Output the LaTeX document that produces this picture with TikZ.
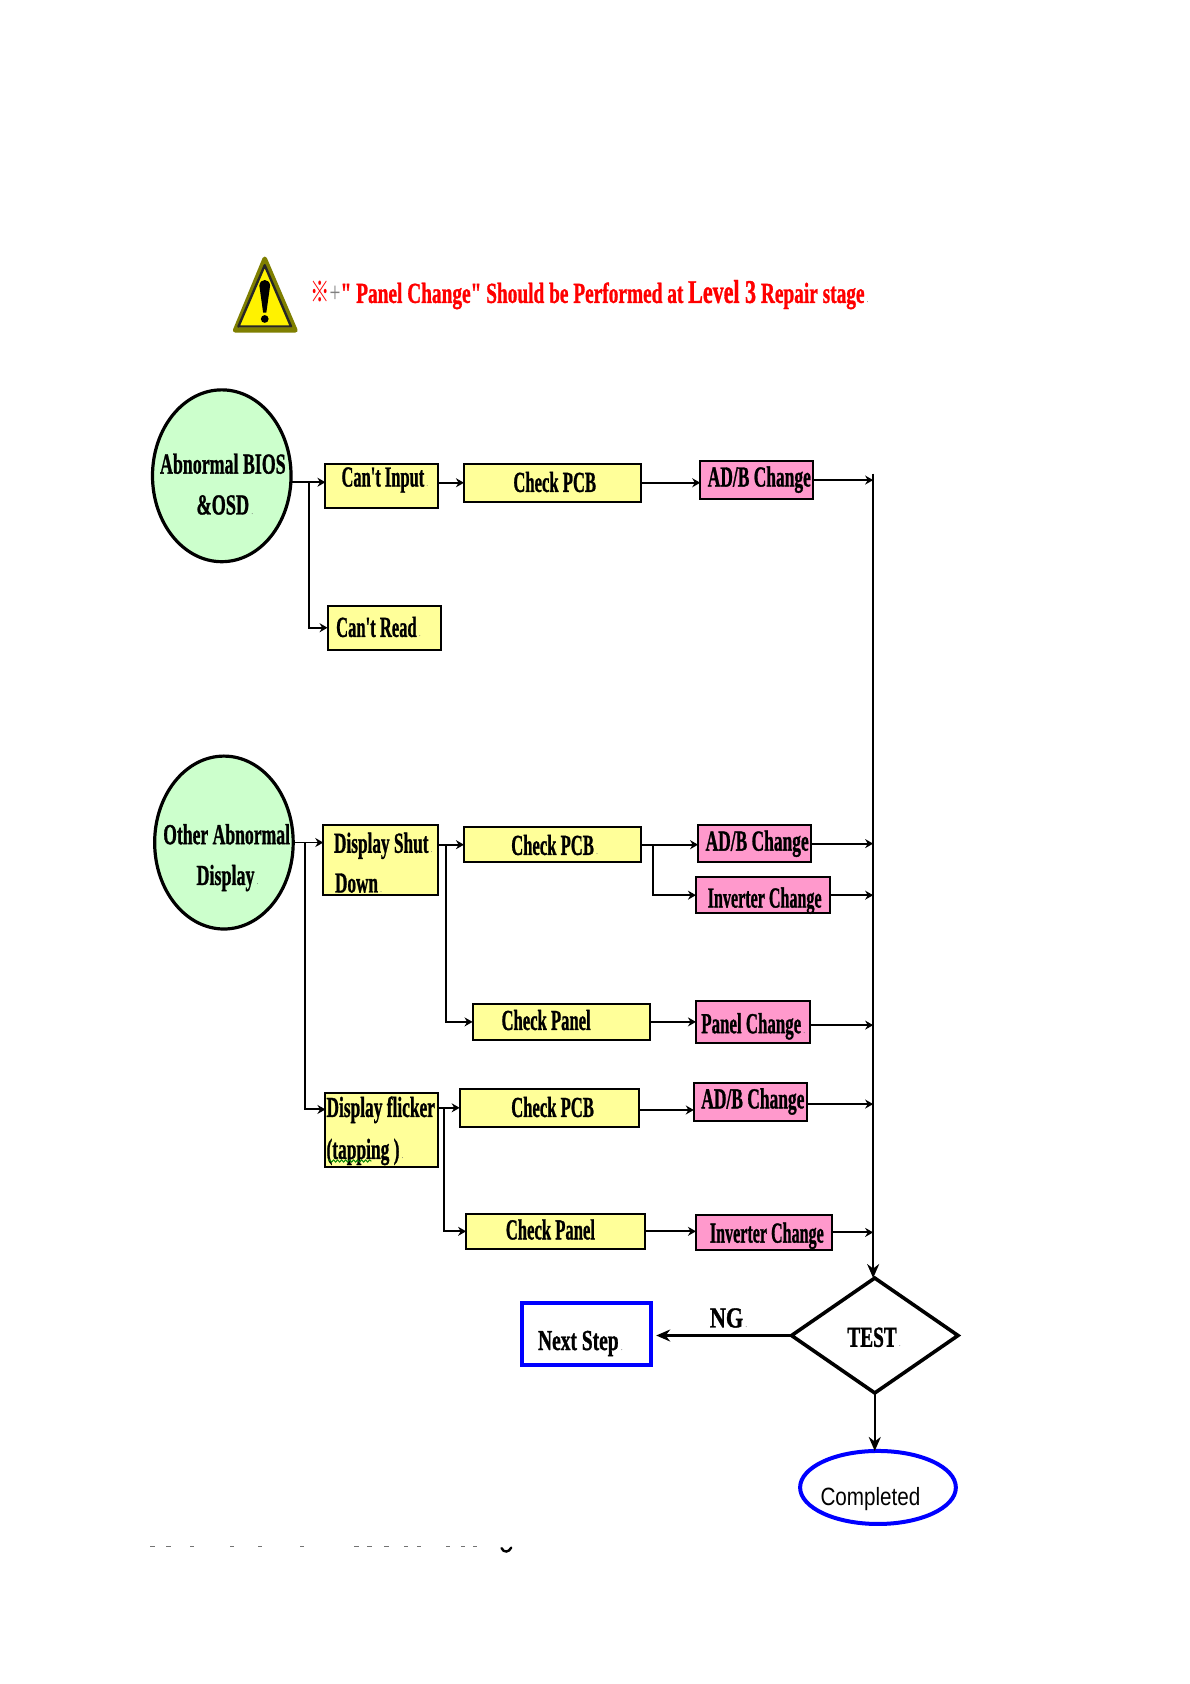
\documentclass[tikz,border=0pt]{standalone}
\usepackage{fontspec}
\usepackage{graphicx}
\setmainfont{Liberation Serif}
\setsansfont{Liberation Sans}
\newfontfamily\cjkf{Noto Sans CJK SC}
\newfontfamily\labf[FakeBold=1.3]{Liberation Serif Bold}
\usetikzlibrary{shapes.geometric,shapes.misc,arrows.meta,calc,decorations.pathmorphing}
\definecolor{ybox}{HTML}{FFFF99}
\definecolor{pbox}{HTML}{FF99CC}
\definecolor{gbox}{HTML}{CCFFCC}
\definecolor{bluel}{HTML}{0000FF}
\definecolor{olivel}{HTML}{7F7F00}
\definecolor{squig}{HTML}{008000}
\tikzset{
  base/.style={inner sep=0pt,outer sep=0pt},
  ybx/.style={base,rectangle,draw=black,line width=2pt,fill=ybox},
  pbx/.style={base,rectangle,draw=black,line width=2pt,fill=pbox},
  startc/.style={base,ellipse,draw=black,line width=3.2pt,fill=gbox},
  testd/.style={base,diamond,draw=black,line width=3.6pt,fill=white},
  nextb/.style={base,chamfered rectangle,chamfered rectangle xsep=4pt,chamfered rectangle ysep=4pt,draw=bluel,line width=3.6pt,fill=white},
  donee/.style={base,ellipse,draw=bluel,line width=4pt,fill=white},
  plain/.style={base},
  wire/.style={draw=black,line width=1.9pt},
  arr/.style={wire,-{Stealth[length=8pt,width=9pt]}},
  bigarr/.style={draw=black,line width=2.2pt,-{Stealth[length=14pt,width=12pt]}},
}
% box: name, style, x1,y1,x2,y2, content
\newcommand\Bx[7]{%
  \pgfmathsetmacro\cx{(#3+#5)/2}\pgfmathsetmacro\cy{(#4+#6)/2}%
  \node[#2,minimum width={(#5-#3)*1.074pt},minimum height={(#6-#4)*1.074pt}] (#1) at (\cx,\cy) {#7};}
% text: x1,x2,y centre,text  (bold squeezed serif)
\newcommand\Tx[4]{%
  \pgfmathsetlengthmacro\tl{(#1-\cx)*1.074pt}%
  \pgfmathsetlengthmacro\tw{(#2-#1)*1.074pt}%
  \pgfmathsetlengthmacro\td{(\cy-#3-9)*1.074pt}%
  \smash{\raisebox{\td}{\hbox to 0pt{\kern\tl\resizebox{\tw}{\height}{\fontsize{29pt}{32pt}\selectfont\labf #4}\hss}}}}
% same, followed by the small paragraph mark
\newcommand\Tm[4]{%
  \Tx{#1}{#2}{#3}{#4}%
  \pgfmathsetlengthmacro\tl{(#2+2-\cx)*1.074pt}%
  \pgfmathsetlengthmacro\td{(\cy-#3-9)*1.074pt}%
  \smash{\raisebox{\td}{\hbox to 0pt{\kern\tl\textcolor{black!60}{\fontsize{8pt}{8pt}\selectfont .}\hss}}}}
\begin{document}
\begin{tikzpicture}[x=1.074pt,y=-1.074pt]
\useasboundingbox (0,0) rectangle (1108,1568);
\fill[white] (0,0) rectangle (1108,1568);
% warning sign
\draw[draw=olivel,line width=4.6pt,line join=round,fill=yellow] (246.5,241) -- (275,307.5) -- (219,307.5) -- cycle;
\draw[draw=black!85,line width=2.4pt,line join=round] (246.5,247) -- (271,304) -- (222,304) -- cycle;
\fill[black] (241.5,266) .. controls (242,259) and (251,259) .. (251.5,266) -- (248,291) -- (245,291) -- cycle;
\fill[black] (246.5,297) circle (3.6);
\Bx{warn}{plain,text=red}{289}{260}{805}{285}{\Tm{289}{805}{273}{{\cjkf ※}\textcolor{gray}{\normalfont+}" Panel Change" Should be Performed at {\fontsize{33pt}{33pt}\selectfont Level 3} Repair stage}}
% start circles
\Bx{c1}{startc}{142}{363}{271}{523}{\Tx{149}{266}{432}{Abnormal BIOS}\Tm{183}{232}{470}{\&OSD}}
\Bx{c2}{startc}{144}{704}{273}{865}{\Tx{152}{270}{777}{Other Abnormal}\Tm{183}{237}{815}{Display}}
% boxes
\Bx{inp}{ybx}{303}{432}{408}{473}{\Tm{318}{395}{444}{Can't Input}}
\Bx{chk1}{ybx}{432}{432}{597}{467}{\Tx{478}{555}{449}{Check PCB}}
\Bx{adb1}{pbx}{652}{429}{757}{465}{\Tx{659}{755}{444}{AD/B Change}}
\Bx{read}{ybx}{305}{564}{411}{605}{\Tm{313}{388}{584}{Can't Read}}
\Bx{shut}{ybx}{301}{768}{408}{833}{\Tm{311}{399}{785}{Display Shut}\Tm{312}{352}{822}{Down}}
\Bx{chk2}{ybx}{432}{770}{597}{803}{\Tm{476}{553}{787}{Check PCB}}
\Bx{adb2}{pbx}{650}{768}{755}{803}{\Tx{657}{753}{783}{AD/B Change}}
\Bx{inv1}{pbx}{648}{817}{773}{850}{\Tx{659}{765}{836}{Inverter Change}}
\Bx{chkp1}{ybx}{440}{935}{605}{968}{\Tx{467}{550}{950}{Check Panel}}
\Bx{pnl}{pbx}{648}{932}{754}{971}{\Tm{653}{746}{953}{Panel Change}}
\Bx{flick}{ybx}{303}{1018}{408}{1087}{\Tx{304}{405}{1031}{Display flicker}\Tm{304}{372}{1070}{(tapping )}}
\Bx{chk3}{ybx}{428}{1014}{595}{1049}{\Tx{476}{553}{1031}{Check PCB}}
\Bx{adb3}{pbx}{646}{1008}{751}{1044}{\Tx{653}{749}{1023}{AD/B Change}}
\Bx{chkp2}{ybx}{434}{1130}{601}{1163}{\Tx{471}{554}{1145}{Check Panel}}
\Bx{inv2}{pbx}{648}{1131}{775}{1164}{\Tx{661}{767}{1148}{Inverter Change}}
\Bx{test}{testd}{737}{1190}{892}{1297}{\Tm{789}{835}{1245}{TEST}}
\Bx{next}{nextb}{486}{1213}{606}{1271}{\Tm{501}{576}{1248}{Next Step}}
\Bx{compl}{donee}{745}{1351}{890}{1419}{\pgfmathsetlengthmacro\tl{(764-\cx)*1.074pt}\pgfmathsetlengthmacro\tw{93*1.074pt}\pgfmathsetlengthmacro\td{(\cy-1394-8)*1.074pt}\smash{\raisebox{\td}{\hbox to 0pt{\kern\tl\resizebox{\tw}{\height}{\fontsize{25pt}{28pt}\selectfont\sffamily Completed}\hss}}}}
\Bx{ng}{plain}{661}{1215}{692}{1240}{\Tm{661}{692}{1227}{NG}}
% squiggle
\draw[draw=squig,line width=0.9pt,decorate,decoration={zigzag,segment length=4pt,amplitude=1.1pt}] (306,1081) -- (346,1081);
% bus
\coordinate (bustop) at (813,441);
\draw[bigarr] (bustop) -- (bustop |- test.north);
% first group
\coordinate (s1) at ($(c1.east)+(0,6)$);
\coordinate (j1) at (288,449);
\draw[arr] (s1) -- (s1 -| inp.west);
\draw[arr] (j1) |- (read.west);
\draw[arr] (chk1.west -| inp.east) -- (chk1.west);
\draw[arr] (chk1.east) -- (chk1.east -| adb1.west);
\draw[arr] (adb1.east) -- (adb1.east -| bustop);
% second group
\coordinate (j2) at (284,784.5);
\coordinate (e2) at ($(flick.west)+(0,-19.5)$);
\draw[arr] (c2.east) -- (c2.east -| shut.west);
\draw[arr] (j2) |- (e2);
\draw[arr] (chk2.west -| shut.east) -- (chk2.west);
\coordinate (j3) at (415,786.5);
\draw[arr] (j3) |- (chkp1.west);
\draw[arr] (chk2.east) -- (chk2.east -| adb2.west);
\coordinate (j4) at (608,786.5);
\draw[arr] (j4) |- (inv1.west);
\draw[arr] (adb2.east) -- (adb2.east -| bustop);
\draw[arr] (inv1.east) -- (inv1.east -| bustop);
\draw[arr] (chkp1.east) -- (chkp1.east -| pnl.west);
\coordinate (o1) at ($(pnl.east)+(0,3)$);
\draw[arr] (o1) -- (o1 -| bustop);
% flicker group
\draw[arr] (chk3.west -| flick.east) -- (chk3.west);
\coordinate (j5) at (413,1031.5);
\draw[arr] (j5) |- (chkp2.west);
\coordinate (o2) at ($(chk3.east)+(0,2)$);
\draw[arr] (o2) -- (o2 -| adb3.west);
\coordinate (o3) at ($(adb3.east)+(0,2)$);
\draw[arr] (o3) -- (o3 -| bustop);
\draw[arr] (chkp2.east) -- (chkp2.east -| inv2.west);
\draw[arr] (inv2.east) -- (inv2.east -| bustop);
% test exits
\coordinate (nx) at ($(next.east)+(5,0)$);
\draw[bigarr] (test.west) -- (test.west -| nx);
\draw[bigarr] (test.south) -- (test.south |- compl.north);
% clipped text fragments at the bottom
\foreach \xx in {140,155,177,214,240,279,330,342,358,376,388,415,429,440}
  \fill[black!55] (\xx,1439.5) rectangle ++(4,1.2);
\draw[black,line width=2.4pt,line cap=round] (467,1441.5) .. controls (469,1446) and (474,1445.5) .. (476,1441);
\end{tikzpicture}
\end{document}
